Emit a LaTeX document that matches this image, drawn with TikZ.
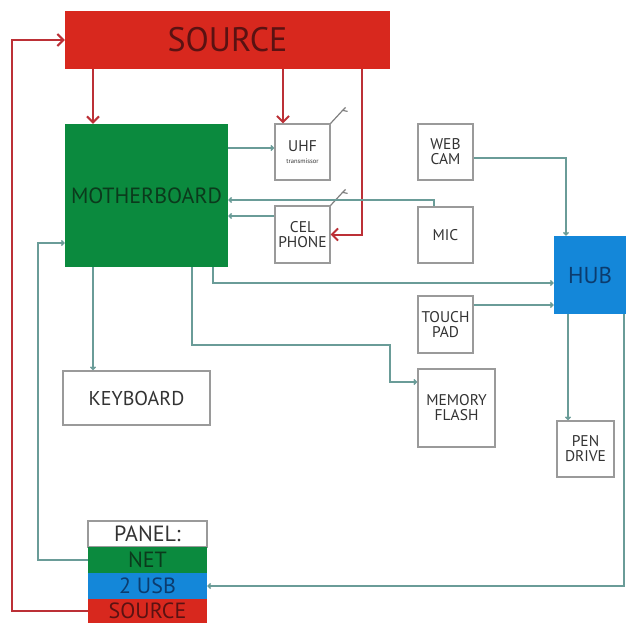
\documentclass[tikz,border=0pt]{standalone}
\usepackage{fontspec}
\setmainfont{PT Sans}
\usetikzlibrary{arrows.meta}

\definecolor{srcred}{HTML}{D8281E}
\definecolor{srcdark}{HTML}{5A1212}
\definecolor{mbgreen}{HTML}{0B8A3E}
\definecolor{mbdark}{HTML}{0B3A1C}
\definecolor{hubblue}{HTML}{1487D9}
\definecolor{hubdark}{HTML}{0C3C6E}
\definecolor{boxgray}{HTML}{9A9A9A}
\definecolor{textgray}{HTML}{333333}
\definecolor{wiregray}{HTML}{6A9C98}
\definecolor{powerred}{HTML}{BC3036}

\begin{document}
\begin{tikzpicture}[x=1pt, y=-1pt,
    box/.style={draw=boxgray, line width=1.2pt, fill=white, text=textgray,
        align=center, inner sep=0pt, font=\fontsize{15.5}{15}\selectfont},
    block/.style={inner sep=0pt, align=center},
    row/.style={minimum width=119pt, minimum height=26pt, inner sep=0pt,
        font=\fontsize{22}{22}\selectfont},
    wire/.style={draw=wiregray, line width=1.4pt, -{Straight Barb[length=2.5pt,width=5pt]}},
    power/.style={draw=powerred, line width=2pt, -{Straight Barb[length=6pt,width=12pt]}}]

    \useasboundingbox (0,0) rectangle (626,624);

    \node[block, fill=srcred, text=srcdark, minimum width=325pt, minimum height=58pt,
        font=\fontsize{34}{34}\selectfont] (source) at (227.5,40) {SOURCE};
    \node[block, fill=mbgreen, text=mbdark, minimum width=163pt, minimum height=143pt,
        font=\fontsize{22}{22}\selectfont] (mb) at (146.5,195.5) {MOTHERBOARD};
    \node[block, fill=hubblue, text=hubdark, minimum width=72pt, minimum height=78pt,
        font=\fontsize{23}{23}\selectfont] (hub) at (590,275) {HUB};

    \node[box, minimum width=55pt, minimum height=56pt] (uhf) at (302.5,152)
        {UHF\\[-3pt]{\fontsize{6.5}{6.5}\selectfont transmissor}};
    \node[box, minimum width=55pt, minimum height=57pt] (cel) at (302.5,234.5) {CEL\\PHONE};
    \node[box, minimum width=55pt, minimum height=56pt] (webcam) at (445.5,152) {WEB\\CAM};
    \node[box, minimum width=55pt, minimum height=56pt] (mic) at (445.5,235) {MIC};
    \node[box, minimum width=55pt, minimum height=57pt] (touch) at (445.5,324.5) {TOUCH\\PAD};
    \node[box, minimum width=77pt, minimum height=78pt] (mem) at (456.5,408) {MEMORY\\FLASH};
    \node[box, minimum width=57pt, minimum height=56pt] (pen) at (585.5,449) {PEN\\DRIVE};
    \node[box, minimum width=147pt, minimum height=54pt,
        font=\fontsize{20}{20}\selectfont] (kbd) at (136.5,398) {KEYBOARD};

    \node[row, draw=boxgray, line width=1.2pt, fill=white, text=textgray] (ptitle) at (147.5,534) {PANEL:};
    \node[row, fill=mbgreen, text=mbdark] (pnet) at (147.5,560) {NET};
    \node[row, fill=hubblue, text=hubdark] (pusb) at (147.5,586) {2 USB};
    \node[row, fill=srcred, text=srcdark, minimum height=24pt] (psrc) at (147.5,611) {SOURCE};

    \foreach \b in {uhf,cel}
        \draw[gray, line width=1.2pt] (\b.north east) -- ++(12,-13) -- ++(3,-3)
            ++(-3,3) -- ++(5,1);

    \draw[power] (93,0 |- source.south) -- (93,0 |- mb.north);
    \draw[power] (283,0 |- source.south) -- (283,0 |- uhf.north);
    \draw[power] (362,0 |- source.south) -- (362,0 |- cel.east) -- (cel.east);
    \draw[power] (psrc.west) -- (12,0 |- psrc.west) -- (12,0 |- source.west) -- (source.west);

    \draw[wire] (mb.east |- 0,148) -- (uhf.west |- 0,148);
    \draw[wire] (cel.west |- 0,216) -- (mb.east |- 0,216);
    \draw[wire] (434,0 |- mic.north) -- (434,200) -- (mb.east |- 0,200);
    \draw[wire] (webcam.east |- 0,158) -- (566,158) -- (566,0 |- hub.north);
    \draw[wire] (213,0 |- mb.south) -- (213,283) -- (hub.west |- 0,283);
    \draw[wire] (touch.east |- 0,305) -- (hub.west |- 0,305);
    \draw[wire] (192,0 |- mb.south) -- (192,345) -- (390,345) -- (390,382) -- (mem.west |- 0,382);
    \draw[wire] (568,0 |- hub.south) -- (568,0 |- pen.north);
    \draw[wire] (93,0 |- mb.south) -- (93,0 |- kbd.north);
    \draw[wire] (pnet.west) -- (38,0 |- pnet.west) -- (38,243) -- (mb.west |- 0,243);
    \draw[wire] (624,0 |- hub.south) -- (624,0 |- pusb.east) -- (pusb.east);
\end{tikzpicture}
\end{document}
